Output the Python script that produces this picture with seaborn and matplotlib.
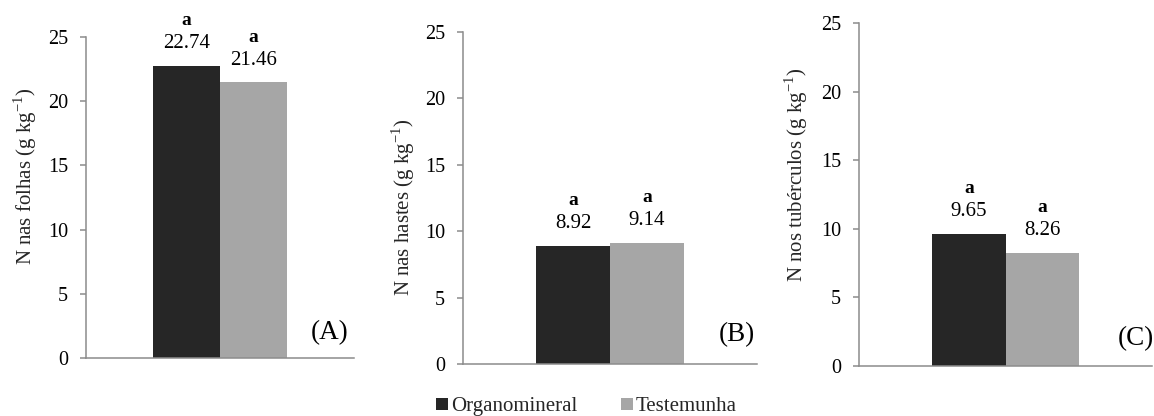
import matplotlib
matplotlib.use("Agg")
import matplotlib.pyplot as plt
from matplotlib.patches import Patch
import pandas as pd
import seaborn as sns

# Teores de N por tratamento
tratamentos = ["Organomineral", "Testemunha"]
n_folhas = [22.74, 21.46]
n_hastes = [8.92, 9.14]
n_tuberculos = [9.65, 8.26]
letras_folhas = ["a", "a"]
letras_hastes = ["a", "a"]
letras_tuberculos = ["a", "a"]

rotulos_y = [
    r"N nas folhas (g kg$^{\mathregular{-1}}$)",
    r"N nas hastes (g kg$^{\mathregular{-1}}$)",
    r"N nos tubérculos (g kg$^{\mathregular{-1}}$)",
]
paineis = ["(A)", "(B)", "(C)"]
ticks_y = [0, 5, 10, 15, 20, 25]

cores = ["#262626", "#a6a6a6"]
cinza_eixo = "#8c8c8c"

sns.set_theme(style="white")
plt.rcParams["font.family"] = ["Liberation Serif", "DejaVu Serif"]
plt.rcParams["mathtext.fontset"] = "custom"
plt.rcParams["mathtext.rm"] = "Liberation Serif"

fig = plt.figure(figsize=(11.54, 4.16), dpi=100)

# [left, bottom, width, height] de cada painel
posicoes = [
    [0.0745, 0.1394, 0.2323, 0.7716],
    [0.4012, 0.1250, 0.2548, 0.7981],
    [0.7444, 0.1202, 0.2539, 0.8245],
]
coords_rotulo = [(-0.226, 0.567), (-0.205, 0.473), (-0.213, 0.557)]
pos_painel = [(0.91, 0.08), (0.93, 0.09), (0.945, 0.08)]

series = [n_folhas, n_hastes, n_tuberculos]
letras = [letras_folhas, letras_hastes, letras_tuberculos]

for i, valores in enumerate(series):
    ax = fig.add_axes(posicoes[i])
    df = pd.DataFrame({"grupo": ["g"] * len(tratamentos),
                       "tratamento": tratamentos,
                       "valor": valores})
    sns.barplot(data=df, x="grupo", y="valor", hue="tratamento",
                hue_order=tratamentos, palette=cores, saturation=1,
                width=0.5, gap=0, legend=False, errorbar=None,
                edgecolor="none", linewidth=0, ax=ax)
    ax.set_xlim(-0.5, 0.5)
    ax.set_ylim(0, 25)
    ax.set_yticks(ticks_y)
    ax.set_xticks([])
    ax.set_xlabel("")
    ax.set_ylabel(rotulos_y[i], fontsize=15, va="center")
    ax.yaxis.set_label_coords(*coords_rotulo[i])
    for lado in ["top", "right"]:
        ax.spines[lado].set_visible(False)
    for lado in ["left", "bottom"]:
        ax.spines[lado].set_color(cinza_eixo)
        ax.spines[lado].set_linewidth(1.1)
    ax.tick_params(axis="y", which="major", left=True, length=4.5,
                   width=1.1, color=cinza_eixo, pad=8.5, labelsize=14.5,
                   labelcolor="black")

    for barra, v, letra in zip(ax.patches, valores, letras[i]):
        cx = barra.get_x() + barra.get_width() / 2
        topo = barra.get_height()
        ax.annotate(f"{v:.2f}", (cx, topo), xytext=(0, 16),
                    textcoords="offset points", ha="center", va="center",
                    fontsize=15, color="black")
        ax.annotate(letra, (cx, topo), xytext=(0, 32.5),
                    textcoords="offset points", ha="center", va="center",
                    fontsize=14, fontweight="bold", color="black")

    ax.text(*pos_painel[i], paineis[i], transform=ax.transAxes,
            ha="center", va="center", fontsize=19.5, color="black",
            clip_on=False)

handles = [Patch(facecolor=c, edgecolor="none", label=t)
           for c, t in zip(cores, tratamentos)]
fig.legend(handles=handles, loc="center", bbox_to_anchor=(0.508, 0.022),
           ncol=2, frameon=False, fontsize=15, handlelength=0.57,
           handleheight=0.57, handletextpad=0.15, columnspacing=2.1,
           borderpad=0)

fig.savefig("out.png", dpi=100)
